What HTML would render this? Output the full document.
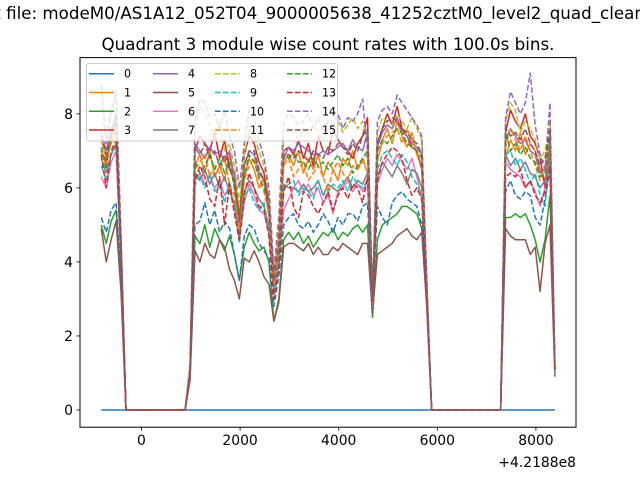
<!DOCTYPE html>
<html><head><meta charset="utf-8">
<style>
html,body{margin:0;padding:0;background:#fff;}
svg{display:block;font-family:"DejaVu Sans","Liberation Sans",sans-serif;}
</style></head>
<body>
<svg id="chart" width="640" height="480" viewBox="0 0 640 480" xmlns="http://www.w3.org/2000/svg">
<rect x="0" y="0" width="640" height="480" fill="#fff"/>
<text x="293" y="19" font-size="16.7" text-anchor="middle" fill="#000">Plot for evt file: modeM0/AS1A12_052T04_9000005638_41252cztM0_level2_quad_clean.evt</text>
<text x="328" y="50" font-size="16.7" text-anchor="middle" fill="#000">Quadrant 3 module wise count rates with 100.0s bins.</text>
<defs><clipPath id="clip"><rect x="80" y="57.6" width="496" height="369.6"/></clipPath></defs>
<g id="plot" clip-path="url(#clip)"></g>
<g id="axes"></g>
<g id="legend"></g>
</svg>
<script>
const T0 = -815;
const STEP = 100;
const gapA = [0,0,0,0,0,0,0,0,0,0,0,0,0];
const gapB = [0,0,0,0,0,0,0,0,0,0,0,0,0,0,0];
const xTicks = [0, 2000, 4000, 6000, 8000];
const xTickLabels = ["0", "2000", "4000", "6000", "8000"];
const yTicks = [0, 2, 4, 6, 8];
const yTickLabels = ["0", "2", "4", "6", "8"];
const seriesLabels = ["0","1","2","3","4","5","6","7","8","9","10","11","12","13","14","15"];
const colors = ["#1f77b4","#ff7f0e","#2ca02c","#d62728","#9467bd","#8c564b","#e377c2","#7f7f7f","#bcbd22","#17becf","#1f77b4","#ff7f0e","#2ca02c","#d62728","#9467bd","#8c564b"];

const s1A=[7.3,6.8,7.2,7.6,4.2];
const s1B=[1.0,6.6,6.9,6.4,7.0,6.3,6.6,6.2,6.9,6.0, 4.8,6.3,6.8,6.5,6.0,6.3,5.2,3.2,4.5,6.7, 6.9,6.6,7.0,6.4,6.8,6.5,6.9,6.3,6.7,6.5, 6.2,6.8,6.6,7.0,6.5,6.8,6.4,2.8,6.7,7.3, 7.6,7.2,7.8,7.4,7.1,7.5,6.9,6.6,3.2];
const s1C=[6.8,7.3,7.0,7.5,6.9,7.2,7.0,6.5,6.2,7.3,1.0];
const s2A=[5.0,4.5,5.1,5.4,3.5];
const s2B=[0.9,4.7,4.5,5.0,4.4,4.9,4.6,4.3,4.7,4.2, 3.5,4.4,4.8,4.5,4.3,4.4,4.0,2.4,3.0,4.6, 4.8,4.6,4.8,4.5,4.7,4.4,4.6,4.8,4.7,4.9, 4.6,4.8,4.7,4.9,5.0,4.8,5.0,2.5,4.6,5.0, 5.1,5.2,5.3,5.5,5.5,5.4,5.3,4.9,3.0];
const s2C=[5.2,5.2,5.3,5.2,5.3,5.0,4.6,4.0,4.6,5.8,1.3];
const s3A=[7.0,6.7,7.4,8.0,4.4];
const s3B=[1.0,7.0,7.4,7.2,7.0,7.5,6.8,7.3,6.5,6.4, 5.2,6.9,7.4,7.2,6.7,6.4,5.6,3.4,4.6,7.0, 7.1,6.9,7.3,6.8,7.2,6.6,7.4,7.0,6.9,7.6, 7.3,7.1,7.0,6.8,7.2,7.4,7.9,2.9,7.2,7.6, 8.0,7.7,8.2,7.6,7.4,7.1,7.0,6.5,3.3];
const s3C=[7.5,8.1,7.8,7.6,8.0,7.4,7.2,6.8,6.0,7.0,1.1];
const s4A=[7.5,7.0,7.6,7.9,4.5];
const s4B=[1.1,7.2,7.0,6.8,7.1,6.9,7.0,6.7,7.0,6.3, 5.0,6.6,7.0,6.9,6.4,6.2,5.3,3.6,4.4,6.8, 7.1,7.0,7.2,7.1,7.0,6.9,6.9,7.0,6.9,7.0, 7.1,7.2,7.0,7.3,7.1,7.0,7.5,3.1,7.1,7.5, 7.7,7.6,7.9,7.5,7.4,7.2,7.1,6.9,3.5];
const s4C=[7.3,7.6,7.4,7.2,7.3,7.0,6.9,6.4,6.5,7.4,1.2];
const s5A=[4.9,4.0,4.6,5.1,3.2];
const s5B=[0.8,4.3,4.0,4.5,4.2,4.1,4.6,4.4,3.8,3.5, 3.0,4.1,4.0,4.3,4.0,3.6,3.4,2.4,2.9,4.4, 4.5,4.5,4.4,4.3,4.5,4.2,4.4,4.2,4.2,4.4, 4.3,4.5,4.4,4.3,4.2,4.5,4.5,2.6,4.2,4.3, 4.4,4.5,4.7,4.8,4.9,4.7,4.6,4.8,2.8];
const s5C=[4.9,4.7,4.6,4.6,4.6,4.2,4.4,3.2,4.5,5.0,0.9];
const s6A=[6.3,6.0,6.7,7.0,4.0];
const s6B=[0.9,6.2,6.4,6.1,6.3,6.0,6.2,5.8,6.0,5.5, 4.6,5.6,6.1,5.8,5.4,5.3,4.8,3.1,3.9,5.4, 5.7,6.0,6.2,5.9,6.1,5.8,6.0,5.6,5.8,5.3, 5.9,6.0,6.2,5.9,6.1,5.9,6.2,2.8,6.1,6.5, 6.8,6.6,6.9,6.7,6.5,6.8,6.3,5.7,3.1];
const s6C=[6.7,6.5,6.4,6.3,6.0,6.2,5.9,5.5,6.0,6.7,1.0];
const s7A=[6.8,6.4,6.9,7.2,4.1];
const s7B=[1.0,6.4,6.2,6.5,6.1,6.4,6.0,6.3,5.9,5.6, 4.7,5.9,6.2,6.0,5.7,5.5,4.9,3.3,4.1,6.1, 6.0,6.0,5.9,6.1,5.9,6.0,6.2,5.8,6.1,6.0, 5.9,6.1,6.3,6.0,6.2,6.1,6.4,2.9,6.3,6.7, 6.5,6.3,6.6,6.4,6.1,6.5,6.4,6.0,3.2];
const s7C=[6.9,6.6,6.8,6.5,6.7,6.4,6.3,6.0,6.2,6.8,1.1];
const s8A=[7.8,7.5,8.2,8.4,4.6];
const s8B=[1.2,7.6,8.2,8.0,7.7,7.3,7.8,7.0,7.2,6.6, 5.6,6.9,7.6,7.4,7.0,6.6,5.8,3.6,4.8,7.4, 7.6,7.5,7.3,7.6,7.4,7.7,7.5,7.3,7.6,7.7, 7.8,7.5,7.7,7.9,7.6,7.8,7.3,3.0,7.5,7.9, 7.8,7.7,8.0,7.8,7.6,7.9,7.6,7.3,3.4];
const s8C=[7.8,8.3,8.1,7.5,7.8,7.6,7.3,6.8,7.0,7.8,1.2];
const s9A=[6.6,6.2,6.9,7.1,4.1];
const s9B=[1.0,6.1,6.3,6.0,6.4,5.9,6.1,5.6,6.2,5.4, 4.5,5.7,6.0,5.6,5.4,5.6,4.9,3.2,4.0,6.0, 6.1,6.2,5.8,6.0,5.9,5.7,6.2,5.8,5.9,6.1, 6.0,6.2,5.9,6.3,6.1,6.0,6.2,3.0,6.5,6.9, 7.0,6.8,6.6,6.9,6.7,6.3,6.1,5.8,3.0];
const s9C=[6.9,7.0,6.6,6.8,6.5,6.1,6.4,5.8,5.5,6.9,1.0];
const s10A=[5.2,4.8,5.4,5.6,3.6];
const s10B=[0.9,5.0,5.1,5.6,5.0,5.4,4.8,5.1,4.9,4.2, 3.5,4.7,5.0,4.9,4.5,4.3,4.1,2.8,3.6,5.0, 5.2,5.3,5.0,4.9,5.1,4.8,5.0,5.3,5.1,4.8, 5.2,5.0,5.3,5.3,5.1,5.5,5.6,2.8,5.5,5.2, 5.0,5.6,5.8,5.9,5.7,5.6,5.5,5.0,3.1];
const s10C=[5.9,6.2,5.8,5.7,5.9,5.8,5.2,5.0,5.7,6.5,1.2];
const s11A=[7.0,6.6,7.3,7.7,4.3];
const s11B=[1.0,6.5,6.7,6.9,6.3,6.6,6.4,6.8,6.1,5.8, 4.9,6.2,6.6,6.8,6.2,5.9,5.3,3.4,4.3,6.6, 6.8,6.3,6.5,6.7,6.2,6.4,6.6,6.3,5.9,6.5, 6.7,6.4,6.2,6.6,6.5,6.7,6.9,2.9,6.8,7.2, 7.4,7.5,7.6,7.2,7.6,7.3,7.0,6.6,3.2];
const s11C=[7.1,7.6,7.3,7.0,7.4,7.0,6.6,6.2,6.6,7.2,1.1];
const s12A=[7.1,6.5,7.5,7.9,4.4];
const s12B=[1.0,6.7,6.4,6.6,6.9,6.5,6.8,6.4,6.7,6.0, 5.3,6.3,6.9,6.7,6.3,6.0,5.5,3.5,4.5,6.9, 6.8,6.9,6.7,6.7,6.5,6.8,6.6,6.7,6.5,6.7, 6.9,6.6,6.8,6.4,6.6,6.8,7.0,3.0,7.0,7.3, 7.2,7.4,7.6,7.5,7.2,7.1,7.0,6.8,3.3];
const s12C=[7.5,7.0,7.2,6.9,7.1,6.8,6.7,6.3,6.4,7.4,1.1];
const s13A=[6.9,6.0,7.0,7.3,4.2];
const s13B=[1.0,6.2,6.6,6.3,5.7,5.5,6.3,5.0,6.1,5.3, 4.6,5.8,6.4,6.0,5.5,5.4,4.7,3.0,3.9,5.9, 6.3,5.5,5.2,5.9,5.8,5.5,5.3,5.6,5.9,5.4, 5.8,6.0,5.7,6.1,6.0,5.6,6.3,2.9,6.2,6.7, 6.9,7.1,7.0,6.8,6.2,5.8,6.0,5.7,3.0];
const s13C=[6.3,6.4,6.3,6.5,6.0,6.2,5.8,5.6,5.9,6.6,1.0];
const s14A=[8.8,7.2,8.0,8.6,4.8];
const s14B=[1.2,7.8,8.4,8.3,7.9,8.0,7.6,8.1,7.4,7.0, 6.0,7.2,8.1,7.9,7.3,6.8,6.0,3.8,5.2,7.8, 8.0,7.9,7.7,7.8,8.0,7.6,7.9,7.5,7.8,7.7, 8.0,7.6,7.9,7.8,8.0,8.4,7.0,3.0,7.8,8.1, 8.2,8.0,8.5,8.3,8.1,7.9,7.7,7.4,3.6];
const s14C=[7.9,8.6,8.3,8.0,8.3,9.1,7.7,6.9,6.5,8.3,1.3];
const s15A=[7.4,6.9,7.5,7.8,4.5];
const s15B=[1.1,7.1,6.9,7.2,6.8,7.0,6.6,6.9,6.5,6.2, 5.1,6.6,7.0,7.0,6.5,6.2,5.5,3.5,4.6,6.9, 6.9,6.8,7.0,6.9,6.7,7.0,6.9,6.8,7.1,7.0, 7.2,7.1,6.9,7.2,7.0,7.4,7.6,3.0,7.2,7.6, 7.8,7.9,7.8,7.6,7.5,7.3,7.2,6.9,3.4];
const s15C=[7.6,7.4,7.5,7.3,7.6,7.2,7.0,6.6,6.8,7.6,1.1];

const segs = [null,[s1A,s1B,s1C],[s2A,s2B,s2C],[s3A,s3B,s3C],[s4A,s4B,s4C],[s5A,s5B,s5C],[s6A,s6B,s6C],[s7A,s7B,s7C],[s8A,s8B,s8C],[s9A,s9B,s9C],[s10A,s10B,s10C],[s11A,s11B,s11C],[s12A,s12B,s12C],[s13A,s13B,s13C],[s14A,s14B,s14C],[s15A,s15B,s15C]];
const series = [];
for (let k = 0; k < 16; k++) {
  if (k === 0) series.push(new Array(93).fill(0));
  else series.push([].concat(segs[k][0], gapA, segs[k][1], gapB, segs[k][2]));
}

const NS = "http://www.w3.org/2000/svg";
const L = 80, R = 576, TOP = 57.6, BOT = 427.2;
const XMIN = -1247, XMAX = 8813, YMIN = -0.465, YMAX = 9.52;
function xs(v){ return L + (v - XMIN) / (XMAX - XMIN) * (R - L); }
function ys(v){ return BOT - (v - YMIN) / (YMAX - YMIN) * (BOT - TOP); }
function mk(tag, attrs, parent){ const e = document.createElementNS(NS, tag); for (const a in attrs) e.setAttribute(a, attrs[a]); parent.appendChild(e); return e; }

const plot = document.getElementById('plot');
for (let k = 0; k < 16; k++) {
  const d = series[k].map((v, i) => (i ? 'L' : 'M') + xs(T0 + STEP * i).toFixed(2) + ' ' + ys(v).toFixed(2)).join(' ');
  const p = mk('path', {d: d, fill: 'none', stroke: colors[k], 'stroke-width': 1.5, 'stroke-linejoin': 'round'}, plot);
  if (k >= 8) p.setAttribute('stroke-dasharray', '5.55 2.4');
  
  
}

const axes = document.getElementById('axes');
const frame = mk('rect', {x: L, y: TOP, width: R - L, height: BOT - TOP, fill: 'none', stroke: '#000', 'stroke-width': 1}, axes);


xTicks.forEach((t, i) => {
  const x = xs(t);
  const tk = mk('line', {x1: x, x2: x, y1: BOT, y2: BOT + 3.5, stroke: '#000', 'stroke-width': 0.8}, axes);
  
  
  const tx = mk('text', {x: x, y: BOT + 18, 'font-size': 13.9, 'text-anchor': 'middle', fill: '#000'}, axes);
  tx.textContent = xTickLabels[i];
  
  
});
yTicks.forEach((t, i) => {
  const y = ys(t);
  const tk = mk('line', {x1: L - 3.5, x2: L, y1: y, y2: y, stroke: '#000', 'stroke-width': 0.8}, axes);
  
  
  const tx = mk('text', {x: L - 7, y: y + 5, 'font-size': 13.9, 'text-anchor': 'end', fill: '#000'}, axes);
  tx.textContent = yTickLabels[i];
  
  
});
const off = mk('text', {x: R, y: 467, 'font-size': 13.9, 'text-anchor': 'end', fill: '#000'}, axes);
off.textContent = '+4.2188e8';



const leg = document.getElementById('legend');
const box = mk('rect', {x: 86.5, y: 63.5, width: 251, height: 77.5, rx: 2.5, fill: '#fff', 'fill-opacity': 0.8, stroke: '#cccccc', 'stroke-width': 1}, leg);


const colX = [89, 153, 215, 287];
const rowY = [73.7, 92.5, 111.3, 130];
for (let k = 0; k < 16; k++) {
  const c = Math.floor(k / 4), r = k % 4;
  const g = mk('g', {}, leg);
  
  
  const ln = mk('line', {x1: colX[c], x2: colX[c] + 25, y1: rowY[r], y2: rowY[r], stroke: colors[k], 'stroke-width': 1.5}, g);
  if (k >= 8) ln.setAttribute('stroke-dasharray', '5.55 2.4');
  const tx = mk('text', {x: colX[c] + 35, y: rowY[r] + 4, 'font-size': 11.1, fill: '#000'}, g);
  tx.textContent = seriesLabels[k];
}
</script>
</body></html>
